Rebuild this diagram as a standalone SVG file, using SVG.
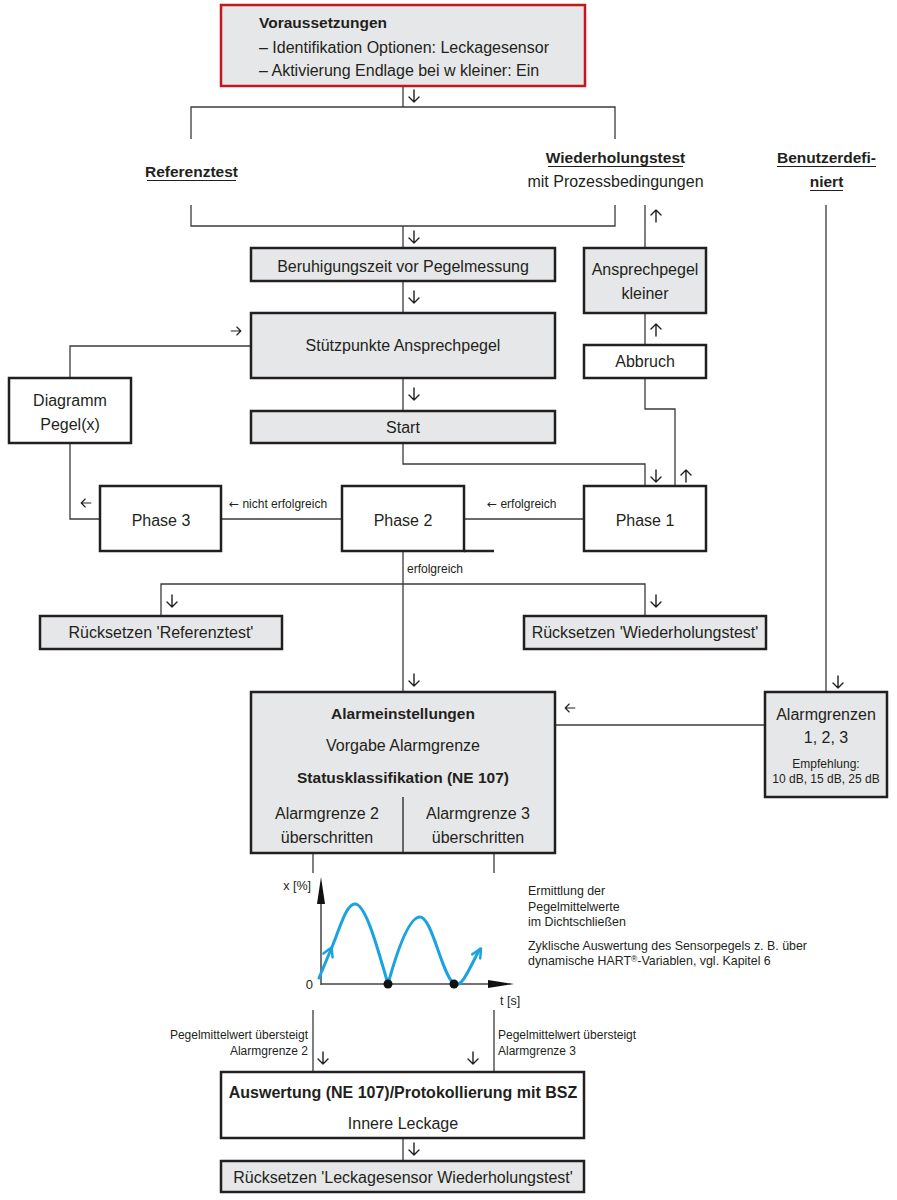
<svg xmlns="http://www.w3.org/2000/svg" xmlns:xlink="http://www.w3.org/1999/xlink" width="897" height="1200" viewBox="0 0 897 1200">
<style>
.box{fill:#fff;stroke:#231f20;stroke-width:2.5}
.gbox{fill:#e6e7e8;stroke:#231f20;stroke-width:2.5}
.ln{fill:none;stroke:#3b3b3b;stroke-width:1.3}
.ul{fill:none;stroke:#231f20;stroke-width:1.2}
.t{font-family:'Liberation Sans',Arial,'DejaVu Sans',sans-serif;font-size:16px;fill:#231f20;text-anchor:middle}
.b{font-weight:bold;font-size:15.5px}
.s{font-size:12px}
.c{font-size:12.4px}
.l{text-anchor:start}
.e{text-anchor:end}
.dv{font-family:'DejaVu Sans',sans-serif}
.ar{fill:none;stroke:#231f20;stroke-width:1.4;stroke-linecap:round;stroke-linejoin:round}
.blue{fill:none;stroke:#1aa3e0;stroke-width:3;stroke-linecap:round;stroke-linejoin:round}
</style>
<defs>
<path id="ad" class="ar" d="M0,-6V6M-5,1L0,6L5,1"/>
</defs>
<rect width="897" height="1200" fill="#fff"/>

<g id="connectors">
<path class="ln" d="M403,86V107M191,139V107H615V139M191,205V226H615V205M403,226V248M403,281V313M403,378V411M251,346H70V378M70,443V519H100M403,443V464H645V486M675,486V409H645V378M645,345V313M645,248V205M826,205V692M584,519H464M342,519H221M403,551V692M161,616V584H645V616M765,725H555M313,853V873M494,853V873M313,1010V1072M494,1010V1072M403,1138V1161"/>
<use xlink:href="#ad" transform="translate(414,96)"/>
<use xlink:href="#ad" transform="translate(414,237)"/>
<use xlink:href="#ad" transform="translate(414,297)"/>
<use xlink:href="#ad" transform="translate(414,394)"/>
<use xlink:href="#ad" transform="translate(656,476)"/>
<use xlink:href="#ad" transform="translate(686,476) rotate(180)"/>
<use xlink:href="#ad" transform="translate(656,330) rotate(180)"/>
<use xlink:href="#ad" transform="translate(656,216) rotate(180)"/>
<use xlink:href="#ad" transform="translate(172,601)"/>
<use xlink:href="#ad" transform="translate(656,601)"/>
<use xlink:href="#ad" transform="translate(414,680)"/>
<use xlink:href="#ad" transform="translate(838,682)"/>
<use xlink:href="#ad" transform="translate(323,1058)"/>
<use xlink:href="#ad" transform="translate(473,1058)"/>
<use xlink:href="#ad" transform="translate(414,1149)"/>
<use xlink:href="#ad" transform="translate(86,503) rotate(90) scale(0.8)"/>
<use xlink:href="#ad" transform="translate(570,708) rotate(90) scale(0.8)"/>
<use xlink:href="#ad" transform="translate(236,331) rotate(-90) scale(0.8)"/>
<text class="t s l" x="229" y="508"><tspan class="dv">←</tspan> nicht erfolgreich</text>
<text class="t s l" x="487" y="508"><tspan class="dv">←</tspan> erfolgreich</text>
<text class="t s l" x="407" y="573">erfolgreich</text>
<text class="t s e" x="308" y="1039">Pegelmittelwert übersteigt</text>
<text class="t s e" x="308" y="1055">Alarmgrenze 2</text>
<text class="t s l" x="498" y="1039">Pegelmittelwert übersteigt</text>
<text class="t s l" x="498" y="1055">Alarmgrenze 3</text>
</g>

<g id="voraussetzungen">
<rect x="221" y="5" width="364" height="81" fill="#e6e7e8" stroke="#c4161c" stroke-width="2.5"/>
<text class="t b l" x="259" y="28">Voraussetzungen</text>
<text class="t l" x="259" y="52.5">– Identifikation Optionen: Leckagesensor</text>
<text class="t l" x="259" y="76">– Aktivierung Endlage bei w kleiner: Ein</text>
</g>

<g id="referenztest">
<text class="t b" x="191.5" y="177">Referenztest</text>
<path class="ul" d="M147,180.5H236"/>
</g>

<g id="wiederholungstest">
<text class="t b" x="615.5" y="163">Wiederholungstest</text>
<path class="ul" d="M548,166.5H683"/>
<text class="t" x="615.5" y="187">mit Prozessbedingungen</text>
</g>

<g id="benutzerdefiniert">
<text class="t b" x="826.5" y="163">Benutzerdefi-</text>
<path class="ul" d="M777,166.5H876"/>
<text class="t b" x="826.5" y="187">niert</text>
<path class="ul" d="M810,190.5H843"/>
</g>

<g id="beruhigungszeit">
<rect class="gbox" x="251" y="248" width="304" height="33"/>
<text class="t" x="403" y="272">Beruhigungszeit vor Pegelmessung</text>
</g>

<g id="stuetzpunkte">
<rect class="gbox" x="251" y="313" width="304" height="65"/>
<text class="t" x="403" y="351">Stützpunkte Ansprechpegel</text>
</g>

<g id="start">
<rect class="gbox" x="251" y="411" width="304" height="32"/>
<text class="t" x="403" y="433">Start</text>
</g>

<g id="diagramm">
<rect class="box" x="9" y="378" width="122" height="65"/>
<text class="t" x="70" y="406">Diagramm</text>
<text class="t" x="70" y="430">Pegel(x)</text>
</g>

<g id="ansprechpegel">
<rect class="gbox" x="584" y="248" width="122" height="65"/>
<text class="t" x="645" y="275">Ansprechpegel</text>
<text class="t" x="645" y="299">kleiner</text>
</g>

<g id="abbruch">
<rect class="box" x="584" y="345" width="122" height="33"/>
<text class="t" x="645" y="367">Abbruch</text>
</g>

<g id="phase1">
<rect class="box" x="584" y="486" width="122" height="65"/>
<text class="t" x="645" y="526">Phase 1</text>
</g>

<g id="phase2">
<rect class="box" x="342" y="486" width="122" height="65"/>
<path d="M464,551H494" stroke="#231f20" stroke-width="2.5"/>
<text class="t" x="403" y="526">Phase 2</text>
</g>

<g id="phase3">
<rect class="box" x="100" y="486" width="121" height="65"/>
<text class="t" x="161" y="526">Phase 3</text>
</g>

<g id="ruecksetzen-referenztest">
<rect class="gbox" x="40" y="616" width="242" height="33"/>
<text class="t" x="161" y="638">Rücksetzen 'Referenztest'</text>
</g>

<g id="ruecksetzen-wiederholungstest">
<rect class="gbox" x="524" y="616" width="242" height="33"/>
<text class="t" x="645" y="638">Rücksetzen 'Wiederholungstest'</text>
</g>

<g id="alarmeinstellungen">
<rect class="gbox" x="251" y="692" width="304" height="161"/>
<path d="M403,797V853" stroke="#231f20" stroke-width="1.3"/>
<text class="t b" x="403" y="719">Alarmeinstellungen</text>
<text class="t" x="403" y="751">Vorgabe Alarmgrenze</text>
<text class="t b" x="403" y="783">Statusklassifikation (NE 107)</text>
<text class="t" x="327" y="819">Alarmgrenze 2</text>
<text class="t" x="327" y="843">überschritten</text>
<text class="t" x="478" y="819">Alarmgrenze 3</text>
<text class="t" x="478" y="843">überschritten</text>
</g>

<g id="alarmgrenzen">
<rect class="gbox" x="765" y="692" width="122" height="105"/>
<text class="t" x="826" y="720">Alarmgrenzen</text>
<text class="t" x="826" y="743">1, 2, 3</text>
<text class="t" x="826" y="768" style="font-size:12px">Empfehlung:</text>
<text class="t" x="826" y="783" style="font-size:12px">10 dB, 15 dB, 25 dB</text>
</g>

<g id="chart">
<path d="M321,985V900M321,984H490" stroke="#444" stroke-width="1.5" fill="none"/>
<polygon points="321,877 317,904 325,904" fill="#111"/>
<polygon points="514,984 488,980 488,988" fill="#111"/>
<path class="blue" d="M319,978L332,947C340,928 346,904 355,904C366,904 378,950 388,984C396,955 408,917 420,917C432,917 442,975 454,984C462,990 472,962 480,949"/>
<polyline class="blue" points="323.4,953.6 331.5,947.5 332.6,957.3" style="stroke-width:2.5"/>
<polyline class="blue" points="472.2,954.4 481,948.5 480.2,958.4" style="stroke-width:2.5"/>
<circle cx="388" cy="984" r="4.5" fill="#111"/>
<circle cx="454" cy="984" r="4.5" fill="#111"/>
<text class="t e" x="311" y="890" style="font-size:12.5px">x [%]</text>
<text class="t e" x="313" y="989" style="font-size:13px">0</text>
<text class="t l" x="500" y="1005" style="font-size:12.5px">t [s]</text>
<text class="t c l" x="528" y="895">Ermittlung der</text>
<text class="t c l" x="528" y="910.5">Pegelmittelwerte</text>
<text class="t c l" x="528" y="926">im Dichtschließen</text>
<text class="t c l" x="528" y="950">Zyklische Auswertung des Sensorpegels z. B. über</text>
<text class="t c l" x="528" y="965">dynamische HART<tspan font-size="8.5" dy="-3">®</tspan><tspan dy="3">-Variablen, vgl. Kapitel 6</tspan></text>
</g>

<g id="auswertung">
<rect class="box" x="221" y="1072" width="363" height="66"/>
<text class="t b" x="403" y="1098" style="font-size:16px">Auswertung (NE 107)/Protokollierung mit BSZ</text>
<text class="t" x="403" y="1129">Innere Leckage</text>
</g>

<g id="ruecksetzen-leckagesensor">
<rect class="gbox" x="221" y="1161" width="363" height="31"/>
<text class="t" x="403" y="1183">Rücksetzen 'Leckagesensor Wiederholungstest'</text>
</g>
</svg>
